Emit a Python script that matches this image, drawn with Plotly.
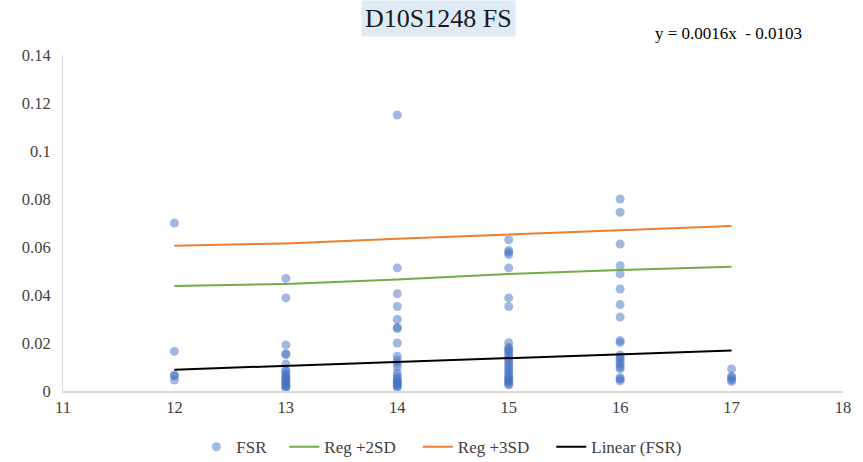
import plotly.graph_objects as go

# FSR values grouped by x position
x_groups = [12, 13, 14, 15, 16, 17]
fsr_values = {
    12: [0.0700, 0.0165, 0.0067, 0.0063, 0.0046],
    13: [0.0469, 0.0388, 0.0192, 0.0155, 0.0152, 0.0113, 0.0090, 0.0080, 0.0072,
         0.0065, 0.0058, 0.0052, 0.0045, 0.0040, 0.0034, 0.0028, 0.0022, 0.0017, 0.0012],
    14: [0.1150, 0.0513, 0.0405, 0.0352, 0.0298, 0.0265, 0.0260, 0.0200, 0.0145,
         0.0128, 0.0115, 0.0100, 0.0075, 0.0062, 0.0052, 0.0045, 0.0040, 0.0035,
         0.0030, 0.0025, 0.0020, 0.0014],
    15: [0.0630, 0.0585, 0.0578, 0.0568, 0.0513, 0.0388, 0.0352, 0.0201, 0.0182,
         0.0175, 0.0168, 0.0160, 0.0150, 0.0140, 0.0130, 0.0120, 0.0110, 0.0100,
         0.0090, 0.0080, 0.0070, 0.0062, 0.0055, 0.0048, 0.0042, 0.0036, 0.0030, 0.0025],
    16: [0.0800, 0.0745, 0.0612, 0.0522, 0.0488, 0.0425, 0.0360, 0.0308, 0.0210,
         0.0202, 0.0150, 0.0140, 0.0130, 0.0120, 0.0110, 0.0100, 0.0092, 0.0055,
         0.0050, 0.0042],
    17: [0.0092, 0.0062, 0.0055, 0.0047, 0.0040],
}

# Regression + 2SD / + 3SD limits at each x
reg_2sd = [0.0437, 0.0446, 0.0465, 0.0487, 0.0504, 0.0518]
reg_3sd = [0.0605, 0.0615, 0.0634, 0.0653, 0.0670, 0.0688]

# Linear trendline of FSR
slope = 0.0016
intercept = -0.0103
trend_x = [12, 17]
trend_y = [slope * v + intercept for v in trend_x]

y_ticks = [0, 0.02, 0.04, 0.06, 0.08, 0.1, 0.12, 0.14]
x_ticks = [11, 12, 13, 14, 15, 16, 17, 18]

SERIF = "Liberation Serif, Times New Roman, serif"
TEXT_COLOR = "#404040"
PAD = "\u00a0" * 4  # extra room after each legend label

pts_x = [gx for gx in x_groups for _ in fsr_values[gx]]
pts_y = [v for gx in x_groups for v in fsr_values[gx]]

fig = go.Figure()
fig.add_trace(go.Scatter(
    x=pts_x, y=pts_y, mode="markers", name="FSR" + "\u00a0" * 3,
    marker=dict(color="rgba(68,114,196,0.5)", size=9, line=dict(width=0)),
))
fig.add_trace(go.Scatter(
    x=x_groups, y=reg_2sd, mode="lines", name="Reg +2SD" + PAD,
    line=dict(color="#70AD47", width=2),
))
fig.add_trace(go.Scatter(
    x=x_groups, y=reg_3sd, mode="lines", name="Reg +3SD" + PAD,
    line=dict(color="#ED7D31", width=2),
))
fig.add_trace(go.Scatter(
    x=trend_x, y=trend_y, mode="lines", name="Linear (FSR)",
    line=dict(color="#000000", width=2),
))

fig.update_layout(
    width=863, height=462,
    margin=dict(l=63, r=20, t=55, b=71),
    paper_bgcolor="white", plot_bgcolor="white",
    font=dict(family=SERIF, size=16, color=TEXT_COLOR),
    showlegend=True,
    legend=dict(
        orientation="h", xref="container", yref="container",
        x=0.512, xanchor="center", y=0.032, yanchor="middle",
        font=dict(family=SERIF, size=17, color=TEXT_COLOR),
        itemwidth=30, bgcolor="rgba(0,0,0,0)",
    ),
    xaxis=dict(
        range=[11, 18], tickvals=x_ticks, showgrid=False, zeroline=False,
        showline=True, linecolor="#D9D9D9", linewidth=1.5, ticks="",
        tickfont=dict(family=SERIF, size=16.5, color=TEXT_COLOR),
    ),
    yaxis=dict(
        range=[0, 0.14], tickvals=y_ticks, showgrid=False, zeroline=False,
        showline=True, linecolor="#D9D9D9", linewidth=1, ticks="",
        ticklabelstandoff=8,
        tickfont=dict(family=SERIF, size=16.5, color=TEXT_COLOR),
    ),
    annotations=[
        dict(
            text="D10S1248 FS", xref="paper", yref="paper", x=0.481, y=1.11,
            xanchor="center", yanchor="middle", showarrow=False,
            font=dict(family=SERIF, size=26, color="#1a1a1a"),
            bgcolor="#DEEBF7", borderpad=3,
        ),
        dict(
            text="y = 0.0016x  - 0.0103", xref="paper", yref="paper",
            x=0.853, y=1.065, xanchor="center", yanchor="middle", showarrow=False,
            font=dict(family=SERIF, size=17, color="#000000"),
        ),
    ],
)

fig.write_html("out.html")
